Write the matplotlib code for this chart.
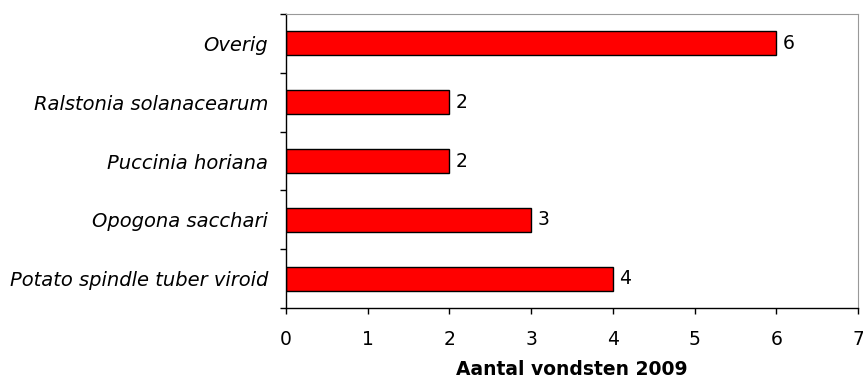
import matplotlib.pyplot as plt
import numpy as np
from matplotlib.ticker import FixedLocator

categories = ['Potato spindle tuber viroid', 'Opogona sacchari', 'Puccinia horiana',
              'Ralstonia solanacearum', 'Overig']
values = [4, 3, 2, 2, 6]

plt.rcParams['font.family'] = 'DejaVu Sans'
fs = 13.5

fig = plt.figure(figsize=(8.63, 3.79), dpi=100)
ax = fig.add_axes([286 / 863, 1 - 308 / 379, (858 - 286) / 863, (308 - 14) / 379])

pos = np.arange(len(categories))
ax.barh(pos, values, height=0.41, color='#ff0000', edgecolor='black', linewidth=1)

for p, v in zip(pos, values):
    ax.text(v + 0.08, p, str(v), va='center', ha='left', fontsize=fs)

ax.set_xlim(0, 7)
ax.set_ylim(-0.5, len(categories) - 0.5)
ax.set_xticks(range(8))
ax.tick_params(axis='x', direction='out', length=4, width=1, labelsize=fs, pad=12)

ax.set_yticks(pos)
ax.set_yticklabels(categories, fontstyle='italic', fontsize=14)
ax.tick_params(axis='y', which='major', length=0, pad=13)
ax.yaxis.set_minor_locator(FixedLocator(np.arange(-0.5, len(categories), 1.0)))
ax.tick_params(axis='y', which='minor', direction='out', length=4.5, width=1)

ax.spines['top'].set_color('#999999')
ax.spines['right'].set_color('#999999')
for s in ['left', 'bottom']:
    ax.spines[s].set_color('black')
    ax.spines[s].set_linewidth(1)

ax.set_xlabel('Aantal vondsten 2009', fontweight='bold', fontsize=fs, labelpad=8)

fig.savefig('out.png', dpi=100)
